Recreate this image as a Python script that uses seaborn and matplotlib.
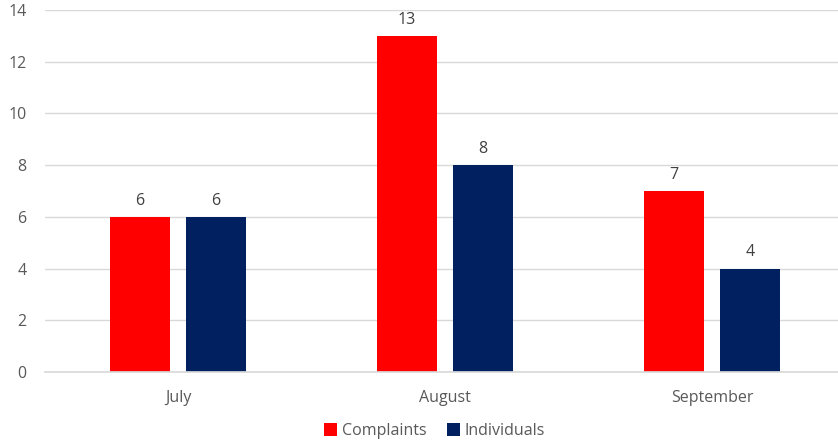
import seaborn as sns
import matplotlib.pyplot as plt
import pandas as pd

# Chart data
months = ["July", "August", "September"]
complaints = [6, 13, 7]
individuals = [6, 8, 4]
series_names = ["Complaints", "Individuals"]

df = pd.DataFrame({
    "Month": months * 2,
    "Series": [series_names[0]] * 3 + [series_names[1]] * 3,
    "Value": complaints + individuals,
})

sns.set_theme(style="white")
plt.rcParams['font.family'] = ['Open Sans', 'DejaVu Sans']
text_col = "#595959"

fig = plt.figure(figsize=(8.38, 4.43), dpi=100)
ax = fig.add_axes([44.5 / 838, 71 / 443, 801 / 838, 362 / 443])

sns.barplot(data=df, x="Month", y="Value", hue="Series",
            palette=["#FF0000", "#002060"], width=0.57, gap=0.21,
            saturation=1, linewidth=0, ax=ax, legend=True)

for cont in ax.containers:
    ax.bar_label(cont, fmt="%g", padding=6, fontsize=11.5, color="#404040")

ax.set_ylim(0, 14)
ax.set_yticks(range(0, 15, 2))
ax.set_xlim(-0.5, 2.5)
ax.yaxis.grid(True, color="#D9D9D9", linewidth=1)
ax.set_axisbelow(True)
for side in ["top", "right", "left"]:
    ax.spines[side].set_visible(False)
ax.spines["bottom"].set_color("#D9D9D9")
ax.tick_params(axis="both", length=0, labelsize=11.5, labelcolor=text_col)
ax.tick_params(axis="y", pad=13)
ax.tick_params(axis="x", pad=13)
ax.set_xlabel("")
ax.set_ylabel("")

handles, labels = ax.get_legend_handles_labels()
ax.legend(handles, labels, loc="lower center", bbox_to_anchor=(390 / 801, -0.225),
          ncol=2, frameon=False, fontsize=11.5, labelcolor=text_col,
          handlelength=0.8, handleheight=0.8, handletextpad=0.3, columnspacing=1.3)

plt.savefig("out.png", dpi=100)
